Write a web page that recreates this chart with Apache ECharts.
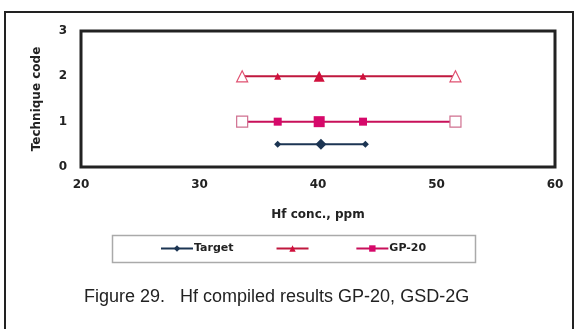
<!DOCTYPE html>
<html>
<head>
<meta charset="utf-8">
<script src="https://cdn.jsdelivr.net/npm/echarts@6/dist/echarts.min.js"></script>
<style>
html,body{margin:0;padding:0;background:#fff;}
#c{width:576px;height:329px;}
</style>
</head>
<body>
<div id="c"></div>
<script>
// Data
const xTicks = [20, 30, 40, 50, 60];
const yTicks = [0, 1, 2, 3];
const seriesNames = ['Target', ' ', 'GP-20'];
const targetX = [36.6, 40.25, 44.0];
const targetY = 0.5;
const gsdX = [33.6, 36.6, 40.1, 43.8, 51.6];
const gsdY = 2;
const gpX = [33.6, 36.6, 40.1, 43.8, 51.6];
const gpY = 1;
const caption = 'Figure 29.   Hf compiled results GP-20, GSD-2G';

const FONT = '"Liberation Sans", Arial, sans-serif';
const BFONT = '"DejaVu Sans", sans-serif';
const TXT = '#222';

function fiveStyle(xs, y, filled, hollow, bigSize, smallSize, endSize, color) {
  return xs.map((x, i) => {
    if (i === 0 || i === xs.length - 1) {
      return { value: [x, y], symbol: hollow, symbolSize: endSize, itemStyle: { color: '#fff', borderColor: color, borderWidth: 1.2 } };
    }
    if (i === 2) return { value: [x, y], symbol: filled, symbolSize: bigSize };
    return { value: [x, y], symbol: filled, symbolSize: smallSize };
  });
}

const chart = echarts.init(document.getElementById('c'), null, { renderer: 'canvas' });
chart.setOption({
  animation: false,
  backgroundColor: '#fff',
  textStyle: { fontFamily: FONT },
  grid: { left: 81, right: 21, top: 31, bottom: 162, show: true, borderColor: '#222', borderWidth: 3, backgroundColor: 'transparent' },
  xAxis: {
    type: 'value', min: xTicks[0], max: xTicks[xTicks.length - 1], interval: 10,
    axisLine: { show: false }, axisTick: { show: false }, splitLine: { show: false },
    axisLabel: { color: TXT, fontSize: 12, fontWeight: 'bold', fontFamily: BFONT, margin: 12 },
    name: 'Hf conc., ppm', nameLocation: 'middle', nameGap: 42,
    nameTextStyle: { color: TXT, fontSize: 12, fontWeight: 'bold', fontFamily: BFONT }
  },
  yAxis: {
    type: 'value', min: yTicks[0], max: yTicks[yTicks.length - 1], interval: 1,
    axisLine: { show: false }, axisTick: { show: false }, splitLine: { show: false },
    axisLabel: { color: TXT, fontSize: 12, fontWeight: 'bold', fontFamily: BFONT, margin: 14 },
    name: 'Technique code', nameLocation: 'middle', nameGap: 38,
    nameTextStyle: { color: TXT, fontSize: 12, fontWeight: 'bold', fontFamily: BFONT }
  },
  legend: {
    left: 160, top: 243, padding: 0, itemGap: 42, itemWidth: 32, itemHeight: 8,
    data: seriesNames,
    textStyle: { color: TXT, fontSize: 11, fontWeight: 'bold', fontFamily: BFONT, padding: [0, 0, 0, -4] }
  },
  graphic: [
    { type: 'rect', shape: { x: 5, y: 12, width: 568, height: 340 }, style: { fill: 'none', stroke: '#222', lineWidth: 2 }, silent: true },
    { type: 'rect', shape: { x: 112.5, y: 235.5, width: 363, height: 27 }, style: { fill: 'none', stroke: '#aaa', lineWidth: 1.5 }, silent: true },
    { type: 'text', left: 84, top: 288, style: { text: caption, fill: TXT, font: '18px ' + FONT } }
  ],
  series: [
    {
      name: seriesNames[0], type: 'line', symbol: 'diamond', symbolSize: 7,
      lineStyle: { color: '#1c3553', width: 2 }, itemStyle: { color: '#1c3553' },
      data: targetX.map((x, i) => ({ value: [x, targetY], symbolSize: i === 1 ? 11 : 7 }))
    },
    {
      name: seriesNames[1], type: 'line', symbol: 'triangle', symbolSize: 7,
      lineStyle: { color: '#c0183e', width: 2 }, itemStyle: { color: '#d0103c' },
      data: fiveStyle(gsdX, gsdY, 'triangle', 'triangle', 11, 7, 11, '#e05070')
    },
    {
      name: seriesNames[2], type: 'line', symbol: 'rect', symbolSize: 7,
      lineStyle: { color: '#c8105a', width: 2 }, itemStyle: { color: '#d6086a' },
      data: fiveStyle(gpX, gpY, 'rect', 'rect', 11, 8, 11, '#d07090')
    }
  ]
});
</script>
</body>
</html>
